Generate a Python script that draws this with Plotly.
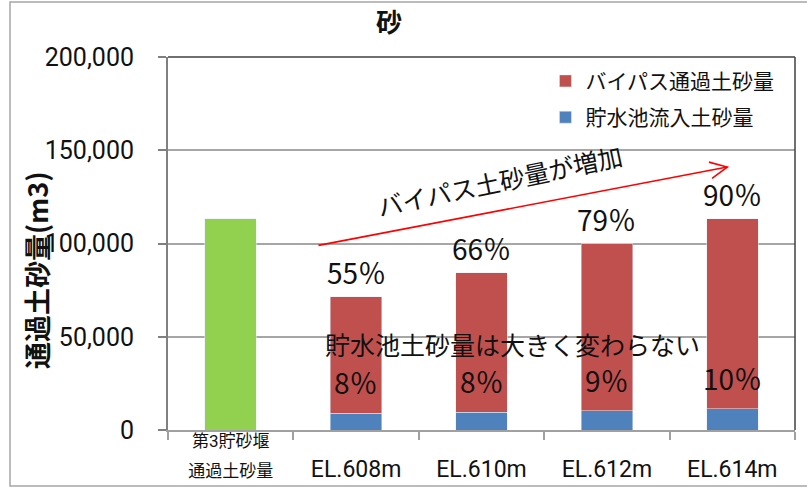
import math
import plotly.graph_objects as go

# --- data -------------------------------------------------------------
categories = ["第3貯砂堰<br>通過土砂量", "EL.608m", "EL.610m", "EL.612m", "EL.614m"]
weir_total = [113400]                           # 第3貯砂堰通過土砂量 (m3)
bypass = [62400, 74800, 89600, 102000]          # バイパス通過土砂量 (m3)
reservoir = [9100, 9400, 10300, 11300]          # 貯水池流入土砂量 (m3)
y_ticks = [0, 50000, 100000, 150000, 200000]

JP = "Noto Sans CJK JP"
NUM = "Roboto, Noto Sans CJK JP"
RED, BLUE, GREEN = "#C0504D", "#4F81BD", "#92D050"

# layout geometry (px)
W, H = 807, 491
ML, MR, MT, MB = 168, 12, 57, 61
PW, PH = W - ML - MR, H - MT - MB
Y_MAX = 200000

el_cats = categories[1:]
totals = [b + r for b, r in zip(bypass, reservoir)]
base = weir_total[0]

fig = go.Figure()
fig.add_trace(go.Bar(x=categories[:1], y=weir_total, marker_color=GREEN,
                     showlegend=False, hoverinfo="skip"))
fig.add_trace(go.Bar(x=el_cats, y=reservoir, name="貯水池流入土砂量",
                     marker_color=BLUE, legendgroup="b", legendrank=2))
fig.add_trace(go.Bar(x=el_cats, y=bypass, name="バイパス通過土砂量",
                     marker_color=RED, legendgroup="a", legendrank=1))

annotations = []
# share of the weir throughput: bypass (above bar) and reservoir (above blue)
for c, b, r, t in zip(el_cats, bypass, reservoir, totals):
    annotations.append(dict(x=c, y=t, xref="x", yref="y", yanchor="bottom",
                            xanchor="center", yshift=3, showarrow=False,
                            text=f"{round(b / base * 100)}％",
                            font=dict(family=JP, size=28, color="#111")))
    annotations.append(dict(x=c, y=r, xref="x", yref="y", yanchor="bottom",
                            xanchor="center", yshift=9, showarrow=False,
                            text=f"{round(r / base * 100)}％",
                            font=dict(family=JP, size=28, color="#111")))

annotations += [
    dict(x=2.25, y=46000, xref="x", yref="y", showarrow=False,
         xanchor="center", yanchor="middle",
         text="貯水池土砂量は大きく変わらない",
         font=dict(family=JP, size=25, color="#111")),
    dict(x=2.15, y=134000, xref="x", yref="y", showarrow=False, textangle=-12,
         xanchor="center", yanchor="middle",
         text="バイパス土砂量が増加",
         font=dict(family=JP, size=25, color="#111")),
    dict(x=(36 - ML) / PW, y=(MT + PH - 271) / PH, xref="paper", yref="paper",
         xanchor="center", yanchor="middle",
         showarrow=False, textangle=-90, text="<b>通過土砂量(m3)</b>",
         font=dict(family=JP, size=27, color="#111")),
]

# red trend arrow drawn in data units
px_per_cat = PW / len(categories)
px_per_val = PH / Y_MAX
x0, y0 = 0.70, 99000
x1, y1 = 3.96, 141000
dx, dy = (x1 - x0) * px_per_cat, (y1 - y0) * px_per_val
ang = math.atan2(dy, dx)
arm = 19
heads = []
for s in (+0.45, -0.45):
    a = ang + math.pi + s
    heads.append((x1 + arm * math.cos(a) / px_per_cat,
                  y1 + arm * math.sin(a) / px_per_val))
shapes = [
    dict(type="line", xref="x", yref="y", x0=x0, y0=y0, x1=x1, y1=y1,
         line=dict(color="#FF0000", width=1.6)),
    dict(type="path", xref="x", yref="y",
         path=f"M {heads[0][0]},{heads[0][1]} L {x1},{y1} L {heads[1][0]},{heads[1][1]}",
         line=dict(color="#FF0000", width=1.6)),
    # plot-area frame (top / right)
    dict(type="line", xref="paper", yref="paper", x0=0, x1=1, y0=1, y1=1,
         line=dict(color="#404040", width=1.5)),
    dict(type="line", xref="paper", yref="paper", x0=1, x1=1, y0=0, y1=1,
         line=dict(color="#404040", width=1.5)),
    # outer chart border
    dict(type="rect", xref="paper", yref="paper",
         x0=(10 - ML) / PW, x1=(W + 6 - ML) / PW,
         y0=-(486 - MT - PH) / PH, y1=1 + (MT - 2) / PH,
         line=dict(color="#A6A6A6", width=1.5), layer="below"),
]

tick_text = ["<span style='font-size:17px'>第3貯砂堰</span><br>"
             "<span style='font-size:17px'>通過土砂量</span>"] + \
            [f"<br>{c}" for c in el_cats]

fig.update_layout(
    width=W, height=H,
    margin=dict(l=ML, r=MR, t=MT, b=MB, pad=0),
    paper_bgcolor="white", plot_bgcolor="white",
    barmode="stack", bargap=0.59,
    title=dict(text="<b>砂</b>", x=389 / W, xanchor="center",
               y=1 - 23 / H, yanchor="middle",
               font=dict(family=JP, size=26, color="#111")),
    legend=dict(x=0.602, y=0.99, xanchor="left", yanchor="top",
                bgcolor="rgba(255,255,255,0)", traceorder="grouped",
                tracegroupgap=6,
                font=dict(family=JP, size=21, color="#111")),
    annotations=annotations, shapes=shapes,
    xaxis=dict(categoryorder="array", categoryarray=categories,
               tickvals=categories, ticktext=tick_text,
               tickson="boundaries", ticks="outside", ticklen=8,
               tickcolor="#A0A0A0", tickwidth=1.5,
               showline=True, linecolor="#A0A0A0", linewidth=2,
               tickfont=dict(family=NUM, size=23, color="#111"),
               ticklabelstandoff=-13, automargin=False,
               showgrid=False, fixedrange=True),
    yaxis=dict(range=[0, Y_MAX], tickvals=y_ticks,
               ticktext=[f"{v:,}" for v in y_ticks],
               ticks="outside", ticklen=8, tickcolor="#808080", tickwidth=1.5,
               showline=True, linecolor="#808080", linewidth=2,
               showgrid=True, gridcolor="#A6A6A6", gridwidth=1.5,
               zeroline=False, automargin=False,
               tickfont=dict(family=NUM, size=25, color="#111"),
               ticklabelstandoff=19),
)

fig.write_html("out.html")
